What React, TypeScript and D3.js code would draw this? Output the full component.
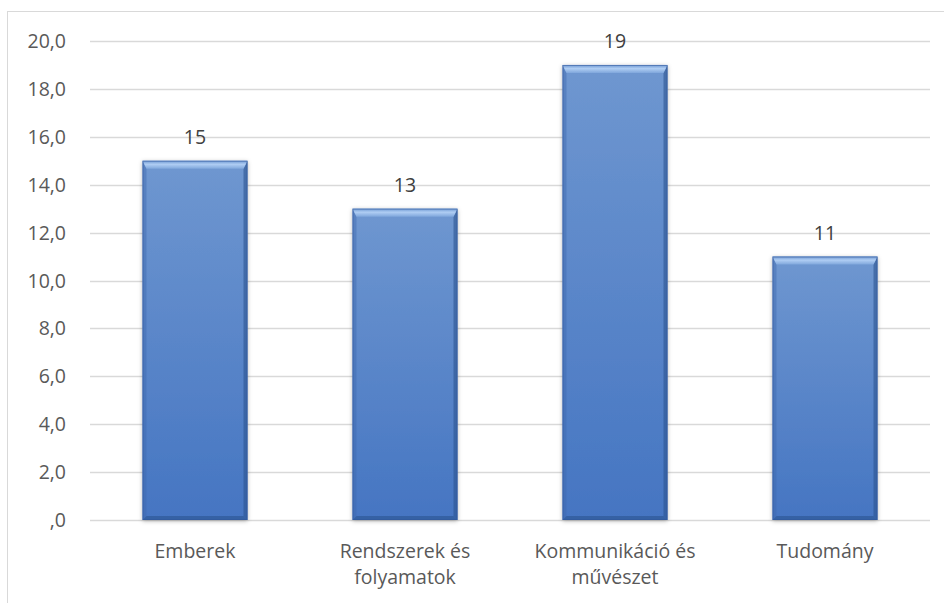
import React, { useEffect, useRef } from 'react';
import * as d3 from 'd3';

const categories = ['Emberek', 'Rendszerek és folyamatok', 'Kommunikáció és művészet', 'Tudomány'];
const categoryLines = [['Emberek'], ['Rendszerek és', 'folyamatok'], ['Kommunikáció és', 'művészet'], ['Tudomány']];
const values = [15, 13, 19, 11];
const yTicks = [0, 2, 4, 6, 8, 10, 12, 14, 16, 18, 20];

const W = 944;
const H = 603;
const FONT = "'Open Sans', 'Noto Sans', sans-serif";
const FS = 19.5;

function fmt(v: number) {
	// Hungarian style, zero shown as ",0"
	if (v === 0) return ',0';
	return v.toFixed(1).replace('.', ',');
}

export default function App() {
	const ref = useRef<SVGSVGElement>(null);

	useEffect(() => {
		const svg = d3.select(ref.current);
		svg.selectAll('*').remove();

		const x = d3.scaleBand<string>()
			.domain(categories)
			.range([90, 930])
			.paddingInner(0.5)
			.paddingOuter(0.25);

		const y = d3.scaleLinear()
			.domain([0, 20])
			.range([520, 41]);

		const defs = svg.append('defs');
		const grad = defs.append('linearGradient')
			.attr('id', 'barGrad')
			.attr('x1', 0).attr('y1', 0).attr('x2', 0).attr('y2', 1);
		grad.append('stop').attr('offset', '0%').attr('stop-color', '#6f97d0');
		grad.append('stop').attr('offset', '100%').attr('stop-color', '#4575c2');

		const top = defs.append('linearGradient')
			.attr('id', 'topGrad')
			.attr('x1', 0).attr('y1', 0).attr('x2', 0).attr('y2', 1);
		top.append('stop').attr('offset', '0%').attr('stop-color', '#6e98d2');
		top.append('stop').attr('offset', '45%').attr('stop-color', '#afcdf3');
		top.append('stop').attr('offset', '100%').attr('stop-color', '#80a7dc');

		const shadow = defs.append('filter')
			.attr('id', 'shadow')
			.attr('x', '-20%').attr('y', '-10%').attr('width', '140%').attr('height', '120%');
		shadow.append('feDropShadow')
			.attr('dx', 0).attr('dy', 1)
			.attr('stdDeviation', 2)
			.attr('flood-color', '#000')
			.attr('flood-opacity', 0.3);

		// outer chart border (goes past the picture on right and bottom)
		svg.append('rect')
			.attr('x', 7.5).attr('y', 11.5)
			.attr('width', 960).attr('height', 620)
			.attr('fill', 'none')
			.attr('stroke', '#d9d9d9');

		// gridlines
		svg.append('g')
			.selectAll('line')
			.data(yTicks)
			.enter()
			.append('line')
			.attr('x1', 90).attr('x2', 930)
			.attr('y1', d => Math.round(y(d)) + 0.5)
			.attr('y2', d => Math.round(y(d)) + 0.5)
			.attr('stroke', '#d9d9d9')
			.attr('stroke-width', 1.3);

		// y labels
		svg.append('g')
			.selectAll('text')
			.data(yTicks)
			.enter()
			.append('text')
			.attr('x', 66)
			.attr('y', d => y(d) + 7)
			.attr('text-anchor', 'end')
			.attr('font-family', FONT)
			.attr('font-size', FS)
			.attr('fill', '#595959')
			.text(d => fmt(d));

		// bars
		const bars = svg.append('g')
			.selectAll('g')
			.data(values)
			.enter()
			.append('g');

		const bw = x.bandwidth();
		const bev = 8;
		const side = 4;

		bars.append('rect')
			.attr('x', (d, i) => x(categories[i])!)
			.attr('y', d => y(d))
			.attr('width', bw)
			.attr('height', d => y(0) - y(d))
			.attr('fill', 'url(#barGrad)')
			.attr('filter', 'url(#shadow)');

		// darker sides
		bars.append('path')
			.attr('d', (d, i) => {
				const x0 = x(categories[i])!, y0 = y(d), y1 = y(0);
				return `M${x0},${y0}L${x0 + side},${y0 + bev}L${x0 + side},${y1 - side}L${x0},${y1}Z`;
			})
			.attr('fill', '#3d68ae')
			.attr('opacity', 0.45);
		bars.append('path')
			.attr('d', (d, i) => {
				const x1 = x(categories[i])! + bw, y0 = y(d), y1 = y(0);
				return `M${x1},${y0}L${x1 - side},${y0 + bev}L${x1 - side},${y1 - side}L${x1},${y1}Z`;
			})
			.attr('fill', '#2c548f')
			.attr('opacity', 0.6);
		// bottom
		bars.append('path')
			.attr('d', (d, i) => {
				const x0 = x(categories[i])!, x1 = x0 + bw, y1 = y(0);
				return `M${x0},${y1}L${x0 + side},${y1 - side}L${x1 - side},${y1 - side}L${x1},${y1}Z`;
			})
			.attr('fill', '#2c548f')
			.attr('opacity', 0.6);
		// top bevel
		bars.append('path')
			.attr('d', (d, i) => {
				const x0 = x(categories[i])!, x1 = x0 + bw, y0 = y(d);
				return `M${x0},${y0}L${x1},${y0}L${x1 - side},${y0 + bev}L${x0 + side},${y0 + bev}Z`;
			})
			.attr('fill', 'url(#topGrad)');
		// outline
		bars.append('rect')
			.attr('x', (d, i) => x(categories[i])! + 0.5)
			.attr('y', d => y(d) + 0.5)
			.attr('width', bw - 1)
			.attr('height', d => y(0) - y(d) - 1)
			.attr('fill', 'none')
			.attr('stroke', '#2f5597')
			.attr('stroke-opacity', 0.5);

		// value labels
		svg.append('g')
			.selectAll('text')
			.data(values)
			.enter()
			.append('text')
			.attr('x', (d, i) => x(categories[i])! + bw / 2)
			.attr('y', d => y(d) - 17)
			.attr('text-anchor', 'middle')
			.attr('font-family', FONT)
			.attr('font-size', FS)
			.attr('fill', '#404040')
			.text(d => d);

		// category labels
		const cat = svg.append('g')
			.selectAll('text')
			.data(categoryLines)
			.enter()
			.append('text')
			.attr('text-anchor', 'middle')
			.attr('font-family', FONT)
			.attr('font-size', FS)
			.attr('fill', '#595959');
		cat.each(function (lines, i) {
			const t = d3.select(this);
			lines.forEach((line, j) => {
				t.append('tspan')
					.attr('x', x(categories[i])! + bw / 2)
					.attr('y', 558 + j * 26)
					.text(line);
			});
		});
	}, []);

	return (
		<svg ref={ref} width={W} height={H}
			style={{ position: 'fixed', left: 0, top: 0, background: '#fff' }} />
	);
}
